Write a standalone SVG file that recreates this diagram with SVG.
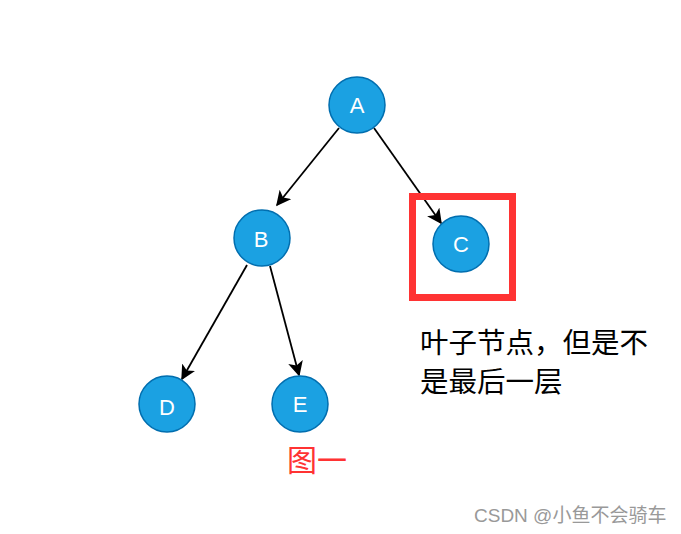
<svg xmlns="http://www.w3.org/2000/svg" width="681" height="534" viewBox="0 0 681 534">
<style>
.node circle{fill:#1ba1e2;stroke:#006eaf;stroke-width:1.5}
.node text{fill:#fff;font-family:"Liberation Sans",Arial,sans-serif;font-size:22px;text-anchor:middle}
.edge{stroke:#000;stroke-width:1.8;fill:none;marker-end:url(#arr)}
.cjk{font-family:"Liberation Sans","Noto Sans CJK SC",sans-serif}
</style>
<defs>
<marker id="arr" viewBox="0 0 10 10" refX="9" refY="5" markerWidth="15" markerHeight="15" markerUnits="userSpaceOnUse" orient="auto">
<path d="M0,0 L10,5 L0,10 L2.5,5 Z" fill="#000"/>
</marker>
</defs>
<rect width="681" height="534" fill="#fff"/>
<g id="connectors">
<line class="edge" x1="339" y1="128" x2="277" y2="205"/>
<line class="edge" x1="374" y1="128" x2="441" y2="223"/>
<line class="edge" x1="247" y1="265" x2="182" y2="379"/>
<line class="edge" x1="270" y1="266" x2="299" y2="375"/>
</g>
<rect id="highlight" x="412.5" y="196.5" width="100" height="101" fill="none" stroke="#ff3333" stroke-width="7"/>
<g id="A" class="node"><circle cx="357" cy="105" r="28"/><text x="357" y="113">A</text></g>
<g id="B" class="node"><circle cx="262" cy="238" r="28"/><text x="261" y="246.5">B</text></g>
<g id="C" class="node"><circle cx="461" cy="244" r="28"/><text x="461" y="252">C</text></g>
<g id="D" class="node"><circle cx="167" cy="404" r="28"/><text x="167" y="415">D</text></g>
<g id="E" class="node"><circle cx="300" cy="404" r="28"/><text x="300" y="412">E</text></g>
<text class="cjk" x="420" y="353" font-size="28.5" fill="#000">叶子节点，但是不</text>
<text class="cjk" x="420" y="392" font-size="28.5" fill="#000">是最后一层</text>
<text class="cjk" x="287" y="471" font-size="30" fill="#ff3333">图一</text>
<text class="cjk" x="474" y="522" font-size="19" fill="#999">CSDN @小鱼不会骑车</text>
</svg>
